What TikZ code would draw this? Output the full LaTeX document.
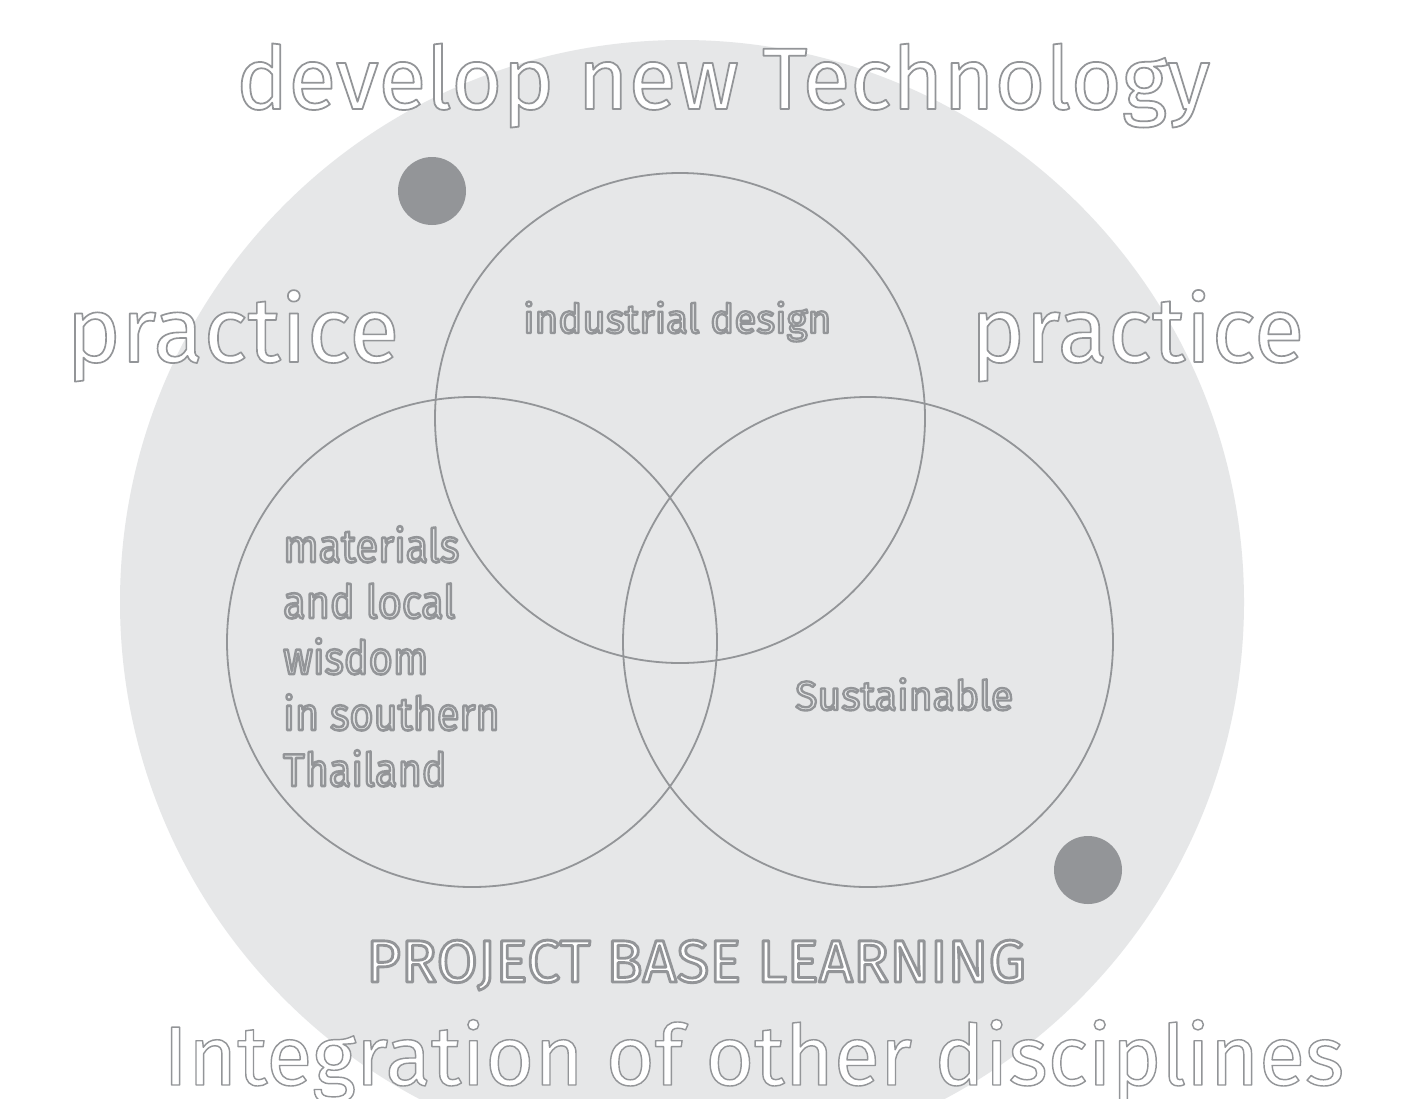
\documentclass[tikz,border=0pt]{standalone}
\usepackage{fontspec}
\setmainfont{Fira Sans}
\usepackage{graphicx}
\definecolor{bgc}{HTML}{E6E7E8}
\definecolor{ink}{HTML}{939598}
% outlined text: #1 fill colour, #2 stroke width, #3 text
\newcommand\outltext[3]{{\color{#1}\special{pdf:literal direct 2 Tr #2 w 1 j 0.576 0.584 0.596 RG}#3\special{pdf:literal direct 0 Tr}}}
\begin{document}
\begin{tikzpicture}[x=1pt,y=-1pt,
  venn/.style={draw=ink,line width=1.8pt},
  dot/.style={fill=ink},
  bigtxt/.style={inner sep=0pt,anchor=base west},
]
\useasboundingbox (0,0) rectangle (1407,1098);
\clip (0,0) rectangle (1407,1098);
\fill[white] (0,0) rectangle (1407,1098);
\fill[bgc] (682,602) circle[radius=562];
\fill[dot] (432,191) circle[radius=34];
\fill[dot] (1088,870) circle[radius=34];
\draw[venn] (680,418) circle[radius=245];
\draw[venn] (472,642) circle[radius=245];
\draw[venn] (868,642) circle[radius=245];

\node[bigtxt] (t1) at (236,109) {\resizebox{974pt}{!}{\fontsize{85}{90}\selectfont\outltext{white}{1.7}{develop new Technology}}};
\node[bigtxt] (pl) at (66,362) {\resizebox{333pt}{!}{\fontsize{95}{100}\selectfont\outltext{white}{1.7}{practice}}};
\node[bigtxt] (pr) at (970,362) {\resizebox{334pt}{!}{\fontsize{95}{100}\selectfont\outltext{white}{1.7}{practice}}};
\node[bigtxt] (id) at (523,333) {\resizebox{308pt}{!}{\fontsize{45}{50}\selectfont\outltext{bgc}{2.6}{industrial design}}};
\node[bigtxt] (su) at (795,710) {\resizebox{218pt}{!}{\fontsize{45}{50}\selectfont\outltext{bgc}{2.6}{Sustainable}}};
\node[bigtxt] (pb) at (366,982) {\resizebox{660pt}{!}{\fontsize{50}{55}\selectfont\outltext{white}{2.4}{PROJECT BASE LEARNING}}};
\node[bigtxt] (ig) at (163,1085) {\resizebox{1181pt}{!}{\fontsize{100}{100}\selectfont\outltext{white}{1.7}{Integration of other disciplines}}};
\node[bigtxt] (m1) at (283,562) {\scalebox{0.9}[1]{\fontsize{46}{56}\selectfont\outltext{bgc}{2.6}{materials}}};
\node[bigtxt] (m2) at (283,618) {\scalebox{0.9}[1]{\fontsize{46}{56}\selectfont\outltext{bgc}{2.6}{and local}}};
\node[bigtxt] (m3) at (283,674) {\scalebox{0.9}[1]{\fontsize{46}{56}\selectfont\outltext{bgc}{2.6}{wisdom}}};
\node[bigtxt] (m4) at (283,730) {\scalebox{0.9}[1]{\fontsize{46}{56}\selectfont\outltext{bgc}{2.6}{in southern}}};
\node[bigtxt] (m5) at (283,786) {\scalebox{0.9}[1]{\fontsize{46}{56}\selectfont\outltext{bgc}{2.6}{Thailand}}};
\end{tikzpicture}
\end{document}
